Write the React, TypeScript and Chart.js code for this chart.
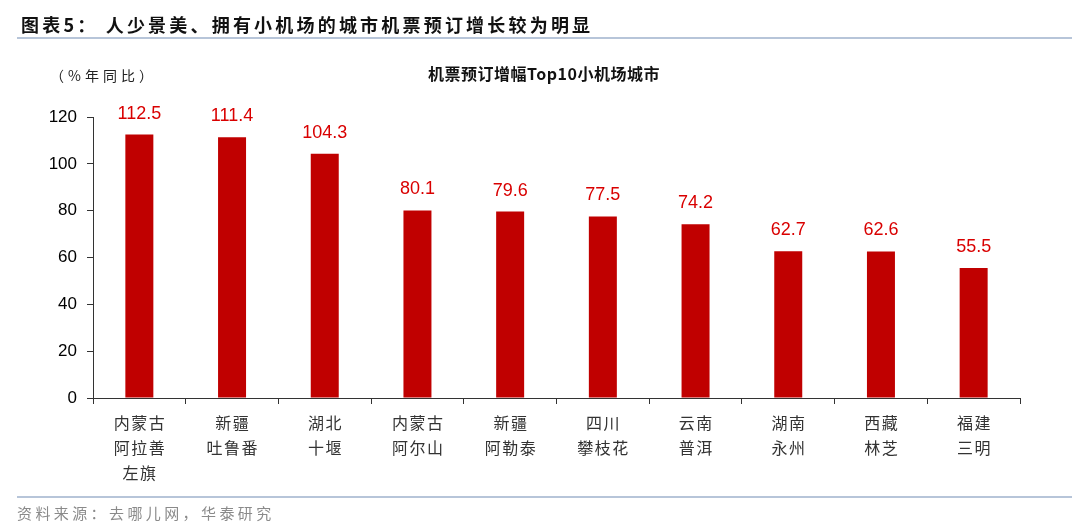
import React, { useEffect, useRef } from "react";
import { Chart, registerables } from "chart.js";

Chart.register(...registerables);

const categories: string[][] = [
  ["内蒙古", "阿拉善", "左旗"],
  ["新疆", "吐鲁番"],
  ["湖北", "十堰"],
  ["内蒙古", "阿尔山"],
  ["新疆", "阿勒泰"],
  ["四川", "攀枝花"],
  ["云南", "普洱"],
  ["湖南", "永州"],
  ["西藏", "林芝"],
  ["福建", "三明"],
];
const growthValues: number[] = [112.5, 111.4, 104.3, 80.1, 79.6, 77.5, 74.2, 62.7, 62.6, 55.5];
const yTicks = { min: 0, max: 120, step: 20 };

const figureTitle = "图表5： 人少景美、拥有小机场的城市机票预订增长较为明显";
const chartTitle = "机票预订增幅Top10小机场城市";
const unitLabel = "（%年同比）";
const sourceText = "资料来源：去哪儿网，华泰研究";

const CJK = '"Noto Sans CJK SC", "Noto Sans", sans-serif';
const LATIN = '"Liberation Sans", Arial, sans-serif';

export default function App() {
  const ref = useRef<HTMLCanvasElement | null>(null);

  useEffect(() => {
    document.body.style.margin = "0";
    const canvas = ref.current;
    if (!canvas) return;

    const spacingPlugin = {
      id: "labelSpacing",
      afterLayout(chart: any) {
        const xs = chart.scales.x;
        if (xs && !xs.__patched) {
          const orig = xs.drawLabels.bind(xs);
          xs.drawLabels = (area: any) => {
            const ctx = chart.ctx;
            ctx.save();
            (ctx as any).letterSpacing = "1.5px";
            ctx.translate(0.75, 0);
            orig(area);
            ctx.restore();
          };
          xs.__patched = true;
        }
      },
    };

    const labelPlugin = {
      id: "valueLabels",
      afterDatasetsDraw(chart: any) {
        const ctx = chart.ctx;
        const meta = chart.getDatasetMeta(0);
        ctx.save();
        ctx.font = `18px ${LATIN}`;
        ctx.fillStyle = "#D90000";
        ctx.textAlign = "center";
        ctx.textBaseline = "middle";
        meta.data.forEach((bar: any, i: number) => {
          ctx.fillText(growthValues[i].toFixed(1), bar.x, bar.y - 21);
        });
        ctx.restore();
      },
    };

    const chart = new Chart(canvas, {
      type: "bar",
      data: {
        labels: categories,
        datasets: [
          {
            data: growthValues,
            backgroundColor: "#C00000",
            barPercentage: 0.302,
            categoryPercentage: 1,
          },
        ],
      },
      options: {
        animation: false,
        responsive: false,
        maintainAspectRatio: false,
        layout: { padding: { top: 117, right: 60, left: 0, bottom: 0 } },
        plugins: {
          legend: { display: false },
          title: { display: false },
          tooltip: { enabled: false },
        },
        scales: {
          x: {
            grid: {
              display: true,
              drawOnChartArea: false,
              drawTicks: true,
              tickLength: 6,
              color: "#333",
              offset: true,
            },
            border: { display: true, color: "#333", width: 1 },
            ticks: {
              color: "#333",
              font: { family: CJK, size: 16, lineHeight: 1.5625 },
              padding: 6,
              maxRotation: 0,
              autoSkip: false,
            },
            afterFit(scale: any) {
              scale.height = 132;
            },
          },
          y: {
            min: yTicks.min,
            max: yTicks.max,
            grid: {
              display: true,
              drawOnChartArea: false,
              drawTicks: true,
              tickLength: 6,
              color: "#333",
            },
            border: { display: true, color: "#333", width: 1 },
            ticks: {
              stepSize: yTicks.step,
              color: "#000",
              font: { family: LATIN, size: 17 },
              padding: 10,
            },
            afterFit(scale: any) {
              scale.width = 93;
            },
          },
        },
      },
      plugins: [spacingPlugin, labelPlugin],
    });

    return () => chart.destroy();
  }, []);

  return (
    <div
      style={{
        position: "fixed",
        left: 0,
        top: 0,
        width: 1080,
        height: 530,
        background: "#fff",
        overflow: "hidden",
      }}
    >
      <canvas ref={ref} width={1080} height={530} style={{ position: "absolute", left: 0, top: 0 }} />
      <div
        style={{
          position: "absolute",
          left: 21,
          top: 11,
          fontFamily: CJK,
          fontWeight: 700,
          fontSize: 18,
          lineHeight: "26px",
          letterSpacing: 3.2,
          color: "#111",
          whiteSpace: "nowrap",
        }}
      >
        {figureTitle}
      </div>
      <div
        style={{
          position: "absolute",
          left: 17,
          top: 37,
          width: 1055,
          height: 2,
          background: "#B7C5D9",
        }}
      />
      <div
        style={{
          position: "absolute",
          left: 0,
          width: 1088,
          top: 62,
          textAlign: "center",
          fontFamily: CJK,
          fontWeight: 700,
          fontSize: 16,
          lineHeight: "22px",
          letterSpacing: 0.5,
          color: "#111",
          whiteSpace: "nowrap",
        }}
      >
        {chartTitle}
      </div>
      <div
        style={{
          position: "absolute",
          left: 50,
          top: 64,
          fontFamily: CJK,
          fontSize: 14,
          lineHeight: "22px",
          letterSpacing: 4,
          color: "#222",
          whiteSpace: "nowrap",
        }}
      >
        {unitLabel}
      </div>
      <div
        style={{
          position: "absolute",
          left: 17,
          top: 496,
          width: 1055,
          height: 2,
          background: "#B7C5D9",
        }}
      />
      <div
        style={{
          position: "absolute",
          left: 17,
          top: 502,
          fontFamily: CJK,
          fontSize: 15,
          lineHeight: "22px",
          letterSpacing: 3.4,
          color: "#8A8A8A",
          whiteSpace: "nowrap",
        }}
      >
        {sourceText}
      </div>
    </div>
  );
}
